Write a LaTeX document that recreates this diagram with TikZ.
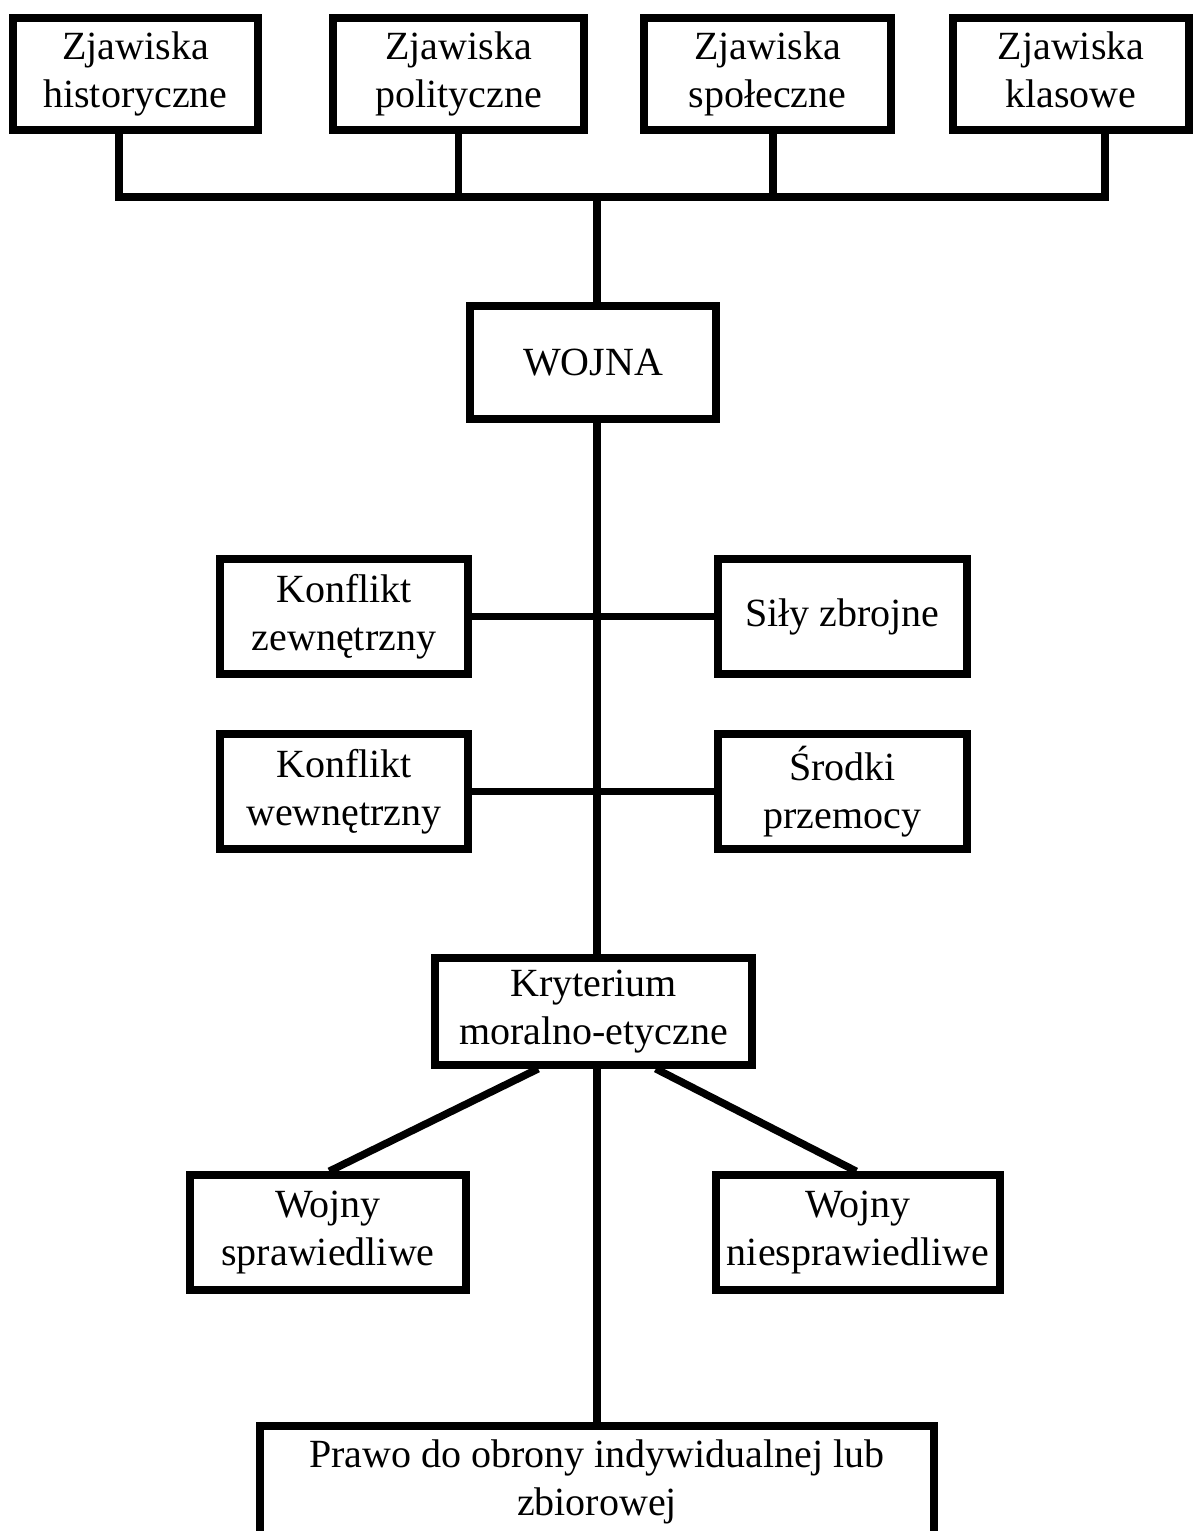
\documentclass[tikz,border=0pt]{standalone}
\usepackage{fontspec}
\setmainfont{Liberation Serif}
\begin{document}
\begin{tikzpicture}[x=1pt,y=-1pt,
  box/.style={draw=black,line width=7.5pt,fill=white,inner sep=0pt,align=center,
    font=\fontsize{40}{48}\selectfont},
  conn/.style={draw=black,line width=7.5pt}]
\useasboundingbox (0,0) rectangle (1193,1531);
% top row
\node[box,minimum width=245pt,minimum height=112pt] (b1) at (135.5,74) {Zjawiska\\historyczne};
\node[box,minimum width=251pt,minimum height=112pt] (b2) at (458.5,74) {Zjawiska\\polityczne};
\node[box,minimum width=247pt,minimum height=112pt] (b3) at (767.5,74) {Zjawiska\\społeczne};
\node[box,minimum width=236pt,minimum height=112pt] (b4) at (1071,74) {Zjawiska\\klasowe\vphantom{y}};
% center
\node[box,minimum width=246pt,minimum height=113pt] (wojna) at (593,362.5) {WOJNA};
\node[box,minimum width=248pt,minimum height=115pt] (kz) at (344,616.5) {Konflikt\\zewnętrzny};
\node[box,minimum width=249pt,minimum height=115pt] (sz) at (842.5,616.5) {Siły zbrojne};
\node[box,minimum width=248pt,minimum height=115pt] (kw) at (344,791.5) {Konflikt\\wewnętrzny};
\node[box,minimum width=249pt,minimum height=115pt] (sp) at (842.5,791.5) {Środki\\przemocy};
\node[box,minimum width=317pt,minimum height=107pt] (kryt) at (593.5,1011.5) {Kryterium\\moralno-etyczne};
\node[box,minimum width=276pt,minimum height=115pt] (ws) at (328,1232.5) {Wojny\\sprawiedliwe};
\node[box,minimum width=284pt,minimum height=115pt] (wn) at (858,1232.5) {Wojny\\niesprawiedliwe};
\node[box,minimum width=674pt,minimum height=112pt] (prawo) at (597,1482) {Prawo do obrony indywidualnej lub\\zbiorowej};
% connector points
\coordinate (hl) at (119,197);
\coordinate (hr) at (1105,197);
\coordinate (c3) at (773,197);
\coordinate (j) at (597,197);
% top connectors
\draw[conn] (b1.south -| hl) -- (hl) -- (hr) -- (b4.south -| hr);
\draw[conn] (b2.south) -- (b2.south |- hl);
\draw[conn] (b3.south -| c3) -- (c3);
\draw[conn] (j) -- (wojna.north -| j);
% trunk
\draw[conn] (wojna.south -| j) -- (kryt.north -| j);
\draw[conn] (kz.east) -- (sz.west);
\draw[conn] (kw.east) -- (sp.west);
% diagonals
\draw[conn] ([xshift=107pt]kryt.south west) -- ([xshift=143pt]ws.north west);
\draw[conn] ([xshift=-100pt]kryt.south east) -- ([xshift=144pt]wn.north west);
\draw[conn] (kryt.south -| j) -- (prawo.north -| j);
\end{tikzpicture}
\end{document}
